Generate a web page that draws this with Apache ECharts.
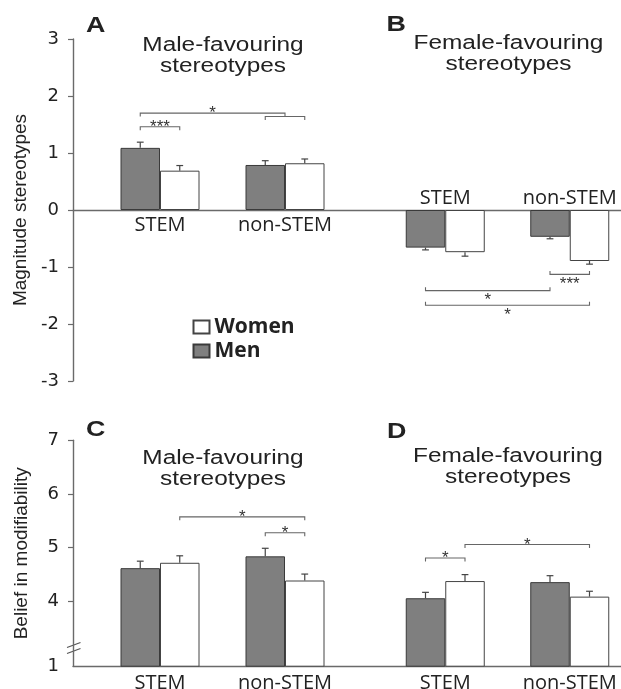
<!DOCTYPE html>
<html>
<head>
<meta charset="utf-8">
<script src="https://cdn.jsdelivr.net/npm/echarts@6/dist/echarts.min.js"></script>
<style>html,body{margin:0;padding:0;background:#fff}#c{width:621px;height:689px}</style>
</head>
<body>
<div id="c"></div>
<script>
// ---------- data ----------
const categories = ['STEM', 'non-STEM'];
// Panel A: magnitude, male-favouring stereotypes
const menA = [1.09, 0.79];
const womenA = [0.69, 0.82];
const seMenA = [0.10, 0.075];
const seWomenA = [0.09, 0.075];
// Panel B: magnitude, female-favouring stereotypes
const menB = [-0.66, -0.47];
const womenB = [-0.74, -0.895];
const seMenB = [0.04, 0.035];
const seWomenB = [0.07, 0.055];
// Panel C: belief in modifiability, male-favouring
const menC = [4.62, 4.84];
const womenC = [4.72, 4.39];
const seMenC = [0.13, 0.15];
const seWomenC = [0.13, 0.12];
// Panel D: belief in modifiability, female-favouring
const menD = [4.06, 4.36];
const womenD = [4.38, 4.09];
const seMenD = [0.11, 0.12];
const seWomenD = [0.12, 0.10];
// tick labels
const topTicks = [-3, -2, -1, 0, 1, 2, 3];
const bottomTicks = [4, 5, 6, 7];
const breakLabel = '1';
// significance brackets: [cat1, side1, cat2, side2, y, label]  (side: -0.5 men, +0.5 women, 0 category)
const bracketsA = [[0, -0.5, 0, 0.5, 1.46, '***'], [0, -0.5, 1, 0, 1.70, '*'], [1, -0.5, 1, 0.5, 1.64, '']];
const bracketsB = [[1, -0.5, 1, 0.5, -1.13, '***'], [0, -0.5, 1, -0.5, -1.415, '*'], [0, -0.5, 1, 0.5, -1.67, '*']];
const bracketsC = [[0, 0.5, 1, 0.5, 5.575, '*'], [1, -0.5, 1, 0.5, 5.28, '*']];
const bracketsD = [[0, -0.5, 0, 0.5, 4.81, '*'], [0, 0.5, 1, 0.5, 5.06, '*']];

// ---------- layout / style ----------
const BAR_W = 39.5;
const BOTTOM_MIN = 2.795; // visual baseline of the broken axis (labelled "1")
const AXIS_COLOR = '#6a6a6a';
const TEXT = '#222';
const MEN_COLOR = '#7f7f7f';

const chart = echarts.init(document.getElementById('c'), null, {renderer: 'canvas'});

const topV = {top: 39, height: 342};
const botV = {top: 440.3, height: 225.9};
const yTopMin = topTicks[0], yTopMax = topTicks[topTicks.length - 1];
// shift of the category axis from the grid bottom up to the zero line
const zeroOffset = -topV.height * (0 - yTopMin) / (yTopMax - yTopMin);

function errSeries(idx, means, ses, side) {
  return {
    type: 'custom', xAxisIndex: idx, yAxisIndex: idx, z: 5, silent: true,
    data: categories.map((c, i) => [i, means[i], ses[i]]),
    renderItem: function (params, api) {
      const cat = api.value(0), m = api.value(1), se = api.value(2);
      const dir = m >= 0 ? 1 : -1;
      const p0 = api.coord([cat, m]);
      const p1 = api.coord([cat, m + dir * se]);
      const x = p0[0] + side * BAR_W;
      const st = {stroke: '#444', lineWidth: 1.2};
      return {type: 'group', children: [
        {type: 'line', shape: {x1: x, y1: p0[1], x2: x, y2: p1[1]}, style: st},
        {type: 'line', shape: {x1: x - 3.4, y1: p1[1], x2: x + 3.4, y2: p1[1]}, style: st}
      ]};
    }
  };
}

function bracketSeries(idx, list, below) {
  return {
    type: 'custom', xAxisIndex: idx, yAxisIndex: idx, z: 6, silent: true, clip: false,
    data: list.map(b => [b[0], b[4]]),
    renderItem: function (params, api) {
      const b = list[params.dataIndex];
      const pa = api.coord([b[0], b[4]]);
      const pb = api.coord([b[2], b[4]]);
      const x1 = pa[0] + b[1] * BAR_W;
      const x2 = pb[0] + b[3] * BAR_W;
      const y = pa[1];
      const t = below ? -3.5 : 3.5;
      const st = {stroke: '#666', lineWidth: 1.1};
      const children = [
        {type: 'polyline', shape: {points: [[x1, y + t], [x1, y], [x2, y], [x2, y + t]]}, style: Object.assign({fill: null}, st)}
      ];
      if (b[5]) {
        children.push({type: 'text', x: (x1 + x2) / 2, y: below ? y + 10 : y + 0.5,
          style: {text: b[5], font: '17px "Liberation Sans"', fill: '#333', align: 'center', verticalAlign: 'middle'}});
      }
      return {type: 'group', children: children};
    }
  };
}

function barSeries(idx, name, vals) {
  const men = name === 'Men';
  return {
    type: 'bar', name: name, xAxisIndex: idx, yAxisIndex: idx, barWidth: BAR_W, barGap: '0%',
    data: vals, z: 3,
    itemStyle: men ? {color: MEN_COLOR, borderColor: '#3a3a3a', borderWidth: 1}
                   : {color: '#ffffff', borderColor: '#444', borderWidth: 1}
  };
}

const catLabel = {fontFamily: '"Open Sans"', fontSize: 20, color: TEXT, hideOverlap: false};
function catAxis(grid, extra) {
  return Object.assign({
    gridIndex: grid, type: 'category', data: categories, position: 'bottom',
    axisLine: {show: false, onZero: false},
    axisTick: {show: false}, splitLine: {show: false}
  }, extra);
}
function hiddenY(grid, min, max) {
  return {gridIndex: grid, type: 'value', min: min, max: max, show: true,
    axisLine: {show: false}, axisTick: {show: false}, axisLabel: {show: false}, splitLine: {show: false}};
}

const titleFont = '20px "Liberation Sans"';
const letterFont = 'bold 22px "Liberation Sans"';
function txt(x, y, text, font, align, lh) {
  return {type: 'text', x: x, y: y, scaleX: 1.22, z: 10,
    style: {text: text, font: font, fill: TEXT, align: align, verticalAlign: 'middle', lineHeight: lh || 22}};
}
function g(extra, v) {
  return Object.assign({outerBoundsMode: 'none', containLabel: false}, extra, v);
}

const option = {
  animation: false,
  backgroundColor: '#fff',
  grid: [
    g({left: 73, width: 548}, topV),
    g({left: 97.5, width: 250}, topV),
    g({left: 383, width: 249}, topV),
    g({left: 73, width: 548}, botV),
    g({left: 97.5, width: 250}, botV),
    g({left: 383, width: 249}, botV)
  ],
  xAxis: [
    {gridIndex: 0, type: 'value', min: 0, max: 1, axisLine: {show: true, onZero: true, lineStyle: {color: AXIS_COLOR, width: 1.4}},
      axisTick: {show: false}, axisLabel: {show: false}, splitLine: {show: false}},
    catAxis(1, {offset: zeroOffset, axisLabel: Object.assign({margin: 5}, catLabel)}),
    catAxis(2, {offset: zeroOffset, axisLabel: Object.assign({margin: 1.5, inside: true}, catLabel)}),
    {gridIndex: 3, type: 'value', min: 0, max: 1, position: 'bottom', axisLine: {show: true, onZero: false, lineStyle: {color: AXIS_COLOR, width: 1.4}},
      axisTick: {show: false}, axisLabel: {show: false}, splitLine: {show: false}},
    catAxis(4, {axisLabel: Object.assign({margin: 7}, catLabel)}),
    catAxis(5, {axisLabel: Object.assign({margin: 7}, catLabel)})
  ],
  yAxis: [
    {gridIndex: 0, type: 'value', min: yTopMin, max: yTopMax, interval: 1,
      name: 'Magnitude stereotypes', nameLocation: 'middle', nameGap: 42,
      nameTextStyle: {fontFamily: '"Liberation Sans"', fontSize: 19, color: TEXT},
      axisLine: {show: true, lineStyle: {color: AXIS_COLOR, width: 1.4}},
      axisTick: {show: true, length: 5, lineStyle: {color: AXIS_COLOR, width: 1.2}},
      axisLabel: {margin: 14, fontFamily: '"DejaVu Sans"', fontSize: 18, color: TEXT},
      splitLine: {show: false}},
    hiddenY(1, yTopMin, yTopMax),
    hiddenY(2, yTopMin, yTopMax),
    {gridIndex: 3, type: 'value', min: BOTTOM_MIN, max: bottomTicks[bottomTicks.length - 1],
      name: 'Belief in modifiability', nameLocation: 'middle', nameGap: 42,
      nameTextStyle: {fontFamily: '"Liberation Sans"', fontSize: 19, color: TEXT},
      axisLine: {show: true, lineStyle: {color: AXIS_COLOR, width: 1.4}},
      axisTick: {show: true, length: 5, customValues: bottomTicks, lineStyle: {color: AXIS_COLOR, width: 1.2}},
      axisLabel: {margin: 14, fontFamily: '"DejaVu Sans"', fontSize: 18, color: TEXT,
        customValues: [BOTTOM_MIN].concat(bottomTicks),
        formatter: v => (v < bottomTicks[0] - 0.5 ? breakLabel : String(v))},
      splitLine: {show: false}},
    hiddenY(4, BOTTOM_MIN, 7),
    hiddenY(5, BOTTOM_MIN, 7)
  ],
  legend: {
    data: ['Women', 'Men'], orient: 'vertical', left: 192.5, top: 315, padding: 0,
    itemWidth: 16, itemHeight: 13, itemGap: 0, icon: 'rect',
    textStyle: {fontFamily: '"Open Sans"', fontWeight: 'bold', fontSize: 21, color: TEXT, lineHeight: 24}
  },
  series: [
    barSeries(1, 'Men', menA), barSeries(1, 'Women', womenA),
    errSeries(1, menA, seMenA, -0.5), errSeries(1, womenA, seWomenA, 0.5), bracketSeries(1, bracketsA, false),
    barSeries(2, 'Men', menB), barSeries(2, 'Women', womenB),
    errSeries(2, menB, seMenB, -0.5), errSeries(2, womenB, seWomenB, 0.5), bracketSeries(2, bracketsB, true),
    barSeries(4, 'Men', menC), barSeries(4, 'Women', womenC),
    errSeries(4, menC, seMenC, -0.5), errSeries(4, womenC, seWomenC, 0.5), bracketSeries(4, bracketsC, false),
    barSeries(5, 'Men', menD), barSeries(5, 'Women', womenD),
    errSeries(5, menD, seMenD, -0.5), errSeries(5, womenD, seWomenD, 0.5), bracketSeries(5, bracketsD, false)
  ],
  graphic: [
    txt(86, 26, 'A', letterFont, 'left'),
    txt(386.5, 24.5, 'B', letterFont, 'left'),
    txt(86, 430, 'C', letterFont, 'left'),
    txt(387, 432, 'D', letterFont, 'left'),
    txt(223, 56.2, 'Male-favouring\nstereotypes', titleFont, 'center', 21),
    txt(508.5, 54, 'Female-favouring\nstereotypes', titleFont, 'center', 21),
    txt(223, 468.5, 'Male-favouring\nstereotypes', titleFont, 'center', 21),
    txt(508, 467, 'Female-favouring\nstereotypes', titleFont, 'center', 21),
    // axis-break marks on the lower y axis
    {type: 'group', x: 73.5, y: 648, z: 10, children: [
      {type: 'line', shape: {x1: -6.5, y1: -0.5, x2: 7, y2: -5.5}, style: {stroke: '#555', lineWidth: 1.2}},
      {type: 'line', shape: {x1: -6.5, y1: 5.5, x2: 7, y2: 0.5}, style: {stroke: '#555', lineWidth: 1.2}}
    ]}
  ]
};
chart.setOption(option);
</script>
</body>
</html>
